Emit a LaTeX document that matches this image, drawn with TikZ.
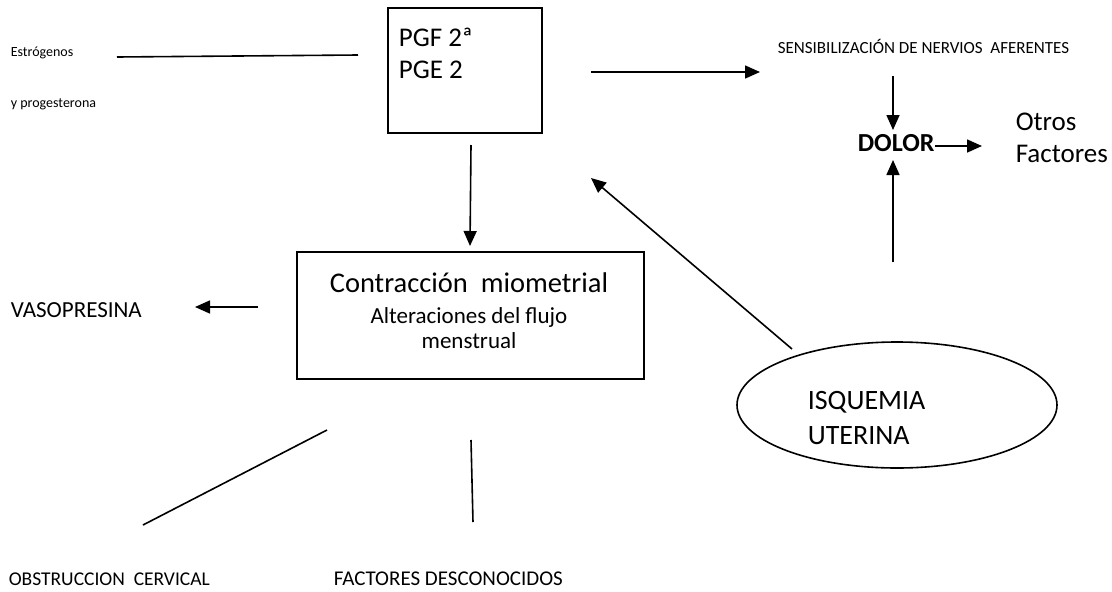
\documentclass[tikz,border=0pt]{standalone}
\usepackage{fontspec}
\setmainfont{Carlito}
\usetikzlibrary{positioning, arrows.meta, shapes.geometric}

\begin{document}
\begin{tikzpicture}[x=1pt, y=-1pt, line width=1.6pt,
    txt/.style={anchor=base west, inner sep=0pt},
    tip/.style={-{Triangle[length=15pt, width=13pt]}},
    fs/.style={font=\fontsize{#1}{#1}\selectfont},
    fsb/.style={font=\fontsize{#1}{#1}\selectfont\bfseries}]
    \useasboundingbox (0,0) rectangle (1112,592);

    % hormonas
    \node[txt, fs=14] (estr) at (10,56) {Estrógenos};
    \node[txt, fs=14] (prog) at (10,107) {y progesterona};
    \coordinate (estrA) at (117,57);
    \coordinate (estrB) at (358,55);

    % prostaglandinas
    \node[draw, anchor=north west, minimum width=154pt, minimum height=125pt] (pgbox) at (387,7) {};
    \node[txt, fs=27] (pgf) at (398,46) {PGF 2ª};
    \node[txt, fs=27] (pge) at (398,78) {PGE 2};

    % dolor
    \node[txt, fs=17] (sens) at (777,53) {SENSIBILIZACIÓN DE NERVIOS\ \ AFERENTES};
    \node[txt, fsb=26] (dolor) at (857,151) {DOLOR};
    \node[txt, fs=27] (otros) at (1015,130) {Otros};
    \node[txt, fs=27] (fact) at (1015,162) {Factores};

    % contraccion
    \node[draw, anchor=north west, minimum width=347pt, minimum height=127pt] (cbox) at (296,251) {};
    \node[anchor=base, inner sep=0pt, fs=28.5] (contr) at (469,292) {Contracción\ \ miometrial};
    \node[anchor=base, inner sep=0pt, fs=23] (alter) at (469,323) {Alteraciones del flujo};
    \node[anchor=base, inner sep=0pt, fs=23] (mens) at (469,348) {menstrual};
    \node[txt, fs=23] (vaso) at (10,317) {VASOPRESINA};

    % isquemia
    \node[draw, ellipse, minimum width=320pt, minimum height=126pt] (isq) at (897,405) {};
    \node[txt, fs=28] (isqA) at (807,409) {ISQUEMIA};
    \node[txt, fs=28] (isqB) at (807,444) {UTERINA};

    % otras causas
    \node[txt, fs=19.5] (obst) at (8,585) {OBSTRUCCION\ \ CERVICAL};
    \node[txt, fs=21] (desc) at (333,585) {FACTORES DESCONOCIDOS};

    \coordinate (pgOut) at (591,72);   \coordinate (sensIn) at (760,72);
    \coordinate (sensOut) at (893,76); \coordinate (dolorIn) at (893,130);
    \coordinate (dolorOut) at (935,146); \coordinate (factIn) at (982,146);
    \coordinate (isqUp) at (893,262);  \coordinate (dolorUp) at (893,160);
    \coordinate (pgDown) at (471,145); \coordinate (cIn) at (470,246);
    \coordinate (vasoA) at (258,307);  \coordinate (vasoB) at (195,307);
    \coordinate (isqOut) at (792,349); \coordinate (pgIn) at (591,178);
    \coordinate (obstA) at (327,430);  \coordinate (obstB) at (143,525);
    \coordinate (descA) at (471,440);  \coordinate (descB) at (473,522);

    \draw (estrA) -- (estrB);
    \draw[tip] (pgOut) -- (sensIn);
    \draw[tip] (sensOut) -- (dolorIn);
    \draw[tip] (dolorOut) -- (factIn);
    \draw[tip] (isqUp) -- (dolorUp);
    \draw[tip] (pgDown) -- (cIn);
    \draw[tip] (vasoA) -- (vasoB);
    \draw[tip] (isqOut) -- (pgIn);
    \draw (obstA) -- (obstB);
    \draw (descA) -- (descB);
\end{tikzpicture}
\end{document}
